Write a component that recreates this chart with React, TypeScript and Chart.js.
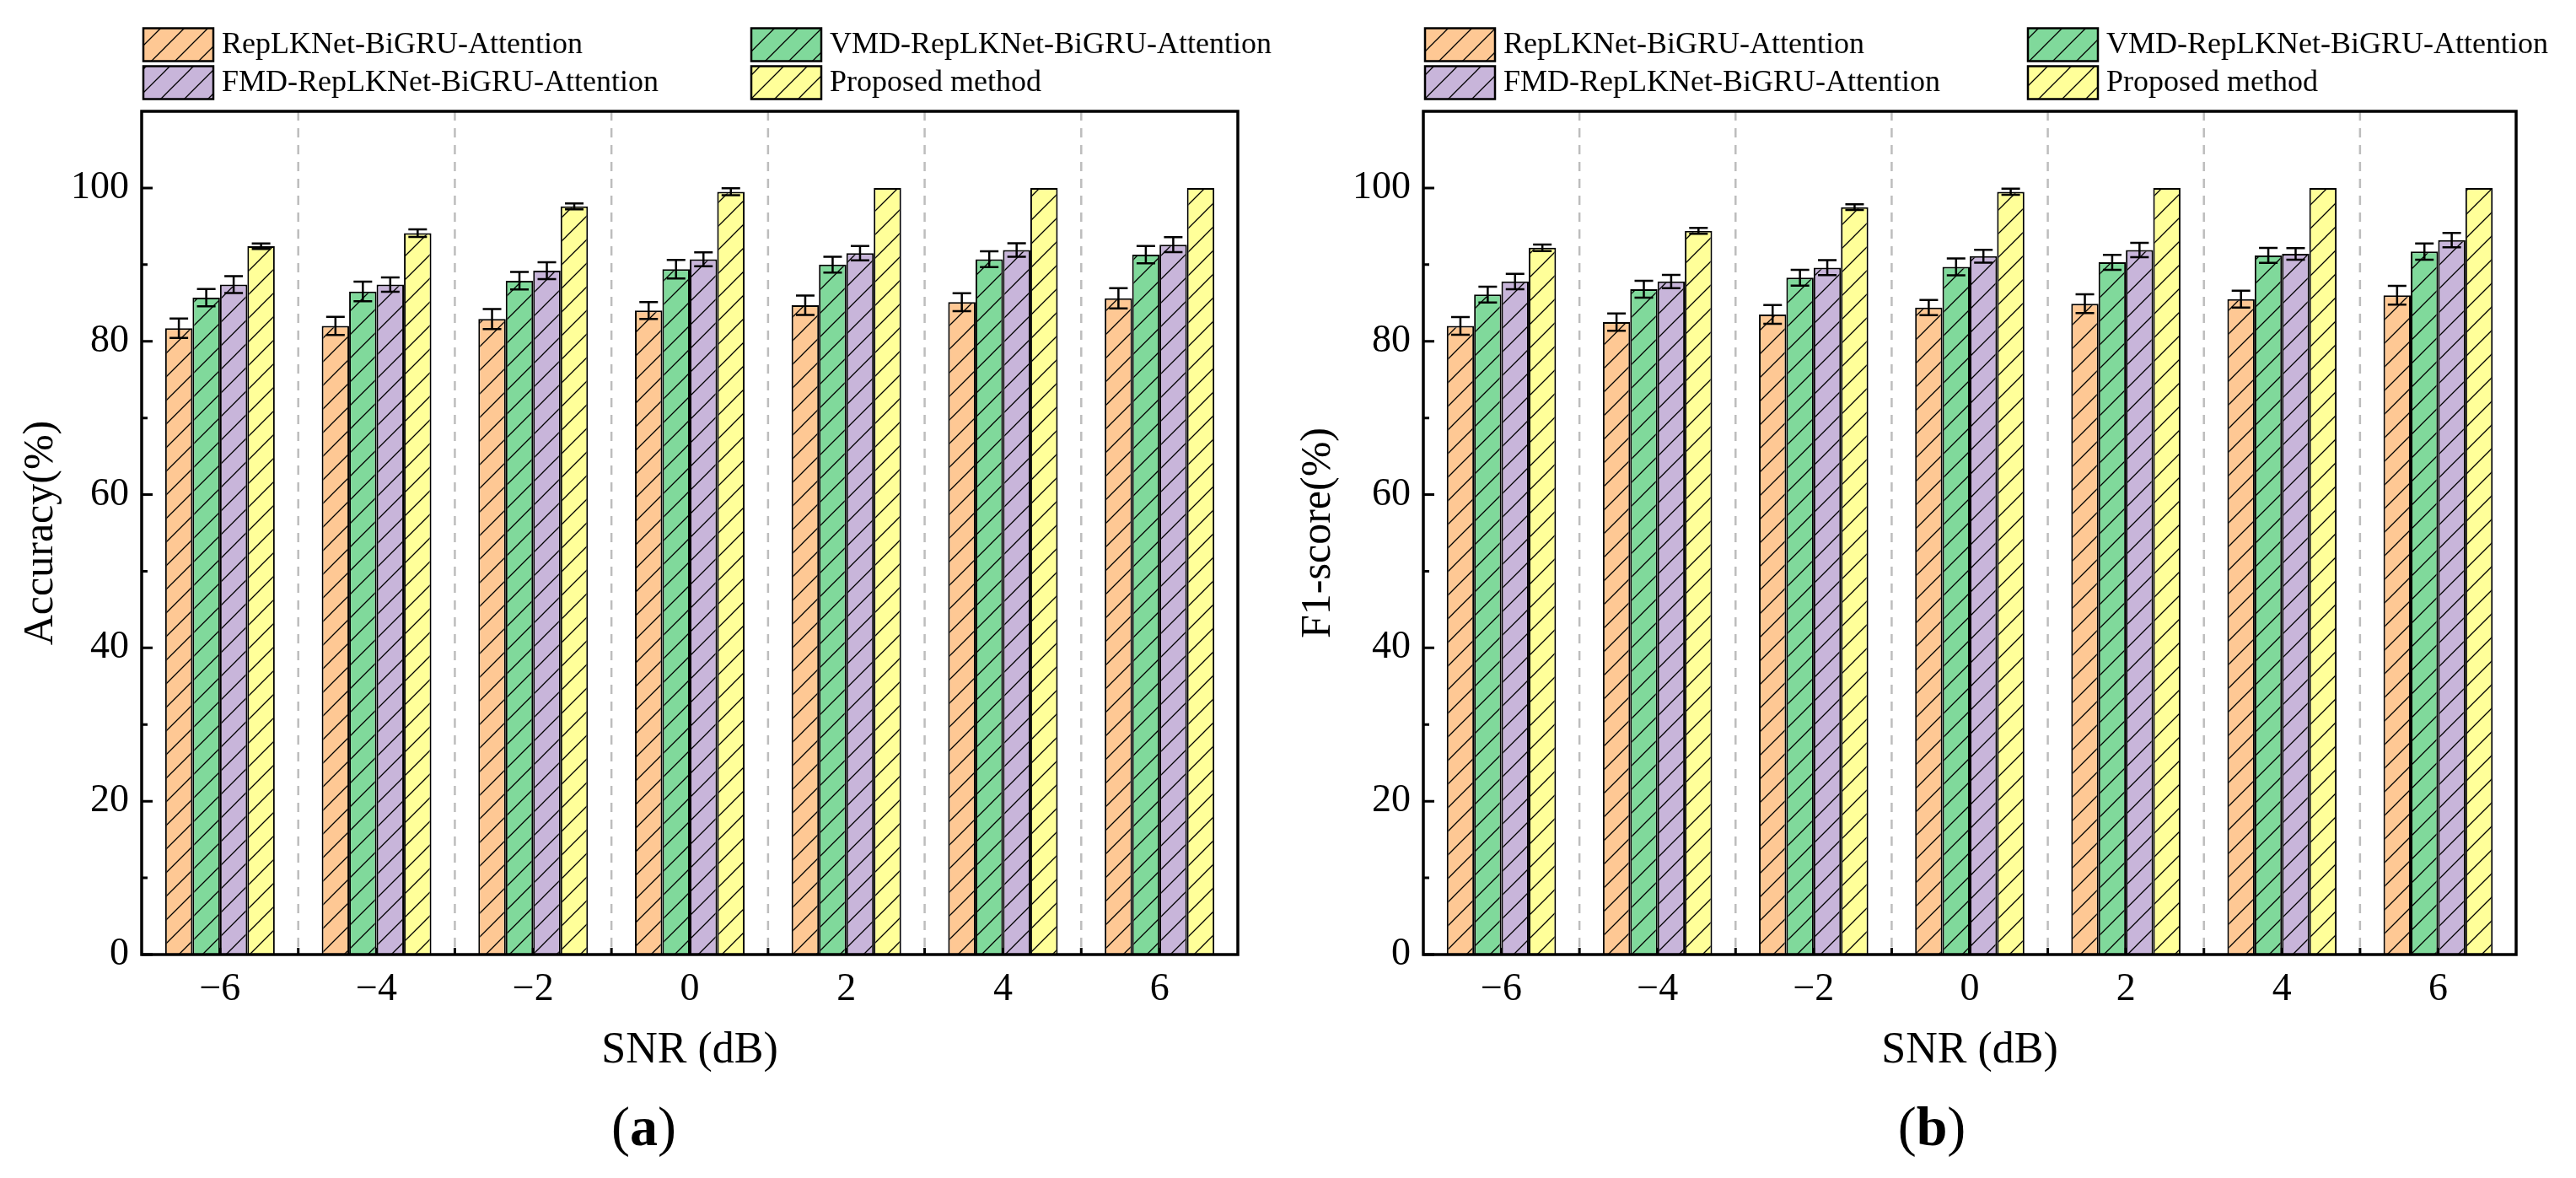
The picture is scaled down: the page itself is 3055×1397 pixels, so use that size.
import React, { useEffect, useRef } from 'react';
import { Chart, registerables } from 'chart.js';

Chart.register(...registerables);

const FONT = '"Liberation Serif", "Times New Roman", Times, serif';

// ---- data ----
const categories = ['−6', '−4', '−2', '0', '2', '4', '6'];
const seriesNames = [
  'RepLKNet-BiGRU-Attention',
  'VMD-RepLKNet-BiGRU-Attention',
  'FMD-RepLKNet-BiGRU-Attention',
  'Proposed method',
];
const seriesColors = ['#FEC894', '#80D99B', '#C8B5DA', '#FFFF99'];

// (a) Accuracy
const accRep = [81.7, 82.0, 82.9, 84.0, 84.7, 85.1, 85.6];
const accRepErr = [1.27, 1.18, 1.3, 1.1, 1.27, 1.18, 1.32];
const accVmd = [85.7, 86.5, 87.9, 89.4, 90.0, 90.7, 91.3];
const accVmdErr = [1.13, 1.27, 1.15, 1.2, 1.03, 1.03, 1.13];
const accFmd = [87.4, 87.4, 89.2, 90.7, 91.5, 91.9, 92.6];
const accFmdErr = [1.1, 0.93, 1.1, 0.9, 0.93, 0.88, 0.98];
const accProp = [92.4, 94.1, 97.6, 99.5, 100, 100, 100];
const accPropErr = [0.37, 0.49, 0.39, 0.45, 0, 0, 0];

// (b) F1-score
const f1Rep = [82.0, 82.5, 83.5, 84.4, 84.9, 85.5, 86.0];
const f1RepErr = [1.15, 1.13, 1.23, 1.0, 1.23, 1.1, 1.23];
const f1Vmd = [86.1, 86.8, 88.3, 89.7, 90.3, 91.2, 91.7];
const f1VmdErr = [1.03, 1.1, 1.03, 1.1, 0.98, 0.98, 1.05];
const f1Fmd = [87.8, 87.8, 89.6, 91.1, 91.9, 91.4, 93.2];
const f1FmdErr = [1.0, 0.86, 0.98, 0.84, 0.93, 0.76, 0.93];
const f1Prop = [92.2, 94.4, 97.5, 99.5, 100, 100, 100];
const f1PropErr = [0.42, 0.39, 0.37, 0.4, 0, 0, 0];

const yTicks = [0, 20, 40, 60, 80, 100];
const yMax = 110;

const H = 1397;

function makeHatch(color: string): CanvasPattern {
  const s = 28;
  const c = document.createElement('canvas');
  c.width = s;
  c.height = s;
  const g = c.getContext('2d')!;
  g.fillStyle = color;
  g.fillRect(0, 0, s, s);
  g.strokeStyle = '#000';
  g.lineWidth = 1.3;
  g.beginPath();
  g.moveTo(0, s);
  g.lineTo(s, 0);
  g.moveTo(-3, 3);
  g.lineTo(3, -3);
  g.moveTo(s - 3, s + 3);
  g.lineTo(s + 3, s - 3);
  g.stroke();
  return g.createPattern(c, 'repeat')!;
}

type PanelProps = {
  left: number;
  width: number;
  values: number[][];
  errors: number[][];
  yTitle: string;
  letter: string;
  plotLeft: number;
  plotRightPad: number;
  yTitlePad: number;
  legendCol2: number;
};

function Panel(p: PanelProps) {
  const ref = useRef<HTMLCanvasElement>(null);

  useEffect(() => {
    const canvas = ref.current!;
    const patterns = seriesColors.map(makeHatch);

    const decorations = {
      id: 'decorations',
      beforeDatasetsDraw(chart: any) {
        const { ctx, chartArea: a } = chart;
        const xs = chart.scales.x;
        ctx.save();
        ctx.strokeStyle = '#BDBDBD';
        ctx.lineWidth = 2.5;
        ctx.setLineDash([11, 9]);
        for (let i = 0; i < categories.length - 1; i++) {
          const px = (xs.getPixelForValue(i) + xs.getPixelForValue(i + 1)) / 2;
          ctx.beginPath();
          ctx.moveTo(px, a.top);
          ctx.lineTo(px, a.bottom);
          ctx.stroke();
        }
        ctx.restore();
      },
      afterDatasetsDraw(chart: any) {
        const { ctx, chartArea: a } = chart;
        const xs = chart.scales.x;
        const ys = chart.scales.y;
        ctx.save();
        // error bars
        ctx.strokeStyle = '#000';
        ctx.lineWidth = 2.5;
        chart.data.datasets.forEach((ds: any, i: number) => {
          const meta = chart.getDatasetMeta(i);
          meta.data.forEach((el: any, j: number) => {
            const v = ds.data[j];
            const e = p.errors[i][j];
            if (!e) return;
            const yt = ys.getPixelForValue(v + e);
            const yb = ys.getPixelForValue(v - e);
            const cap = 11;
            ctx.beginPath();
            ctx.moveTo(el.x, yt);
            ctx.lineTo(el.x, yb);
            ctx.moveTo(el.x - cap, yt);
            ctx.lineTo(el.x + cap, yt);
            ctx.moveTo(el.x - cap, yb);
            ctx.lineTo(el.x + cap, yb);
            ctx.stroke();
          });
        });
        // frame
        ctx.lineWidth = 3.5;
        ctx.strokeRect(a.left, a.top, a.right - a.left, a.bottom - a.top);
        // y ticks (inward)
        ctx.lineWidth = 3;
        const major = ys.ticks.map((t: any) => t.value);
        ctx.beginPath();
        major.forEach((v: number, k: number) => {
          const py = ys.getPixelForValue(v);
          ctx.moveTo(a.left, py);
          ctx.lineTo(a.left + 13, py);
          if (k < major.length - 1) {
            const pm = ys.getPixelForValue((v + major[k + 1]) / 2);
            ctx.moveTo(a.left, pm);
            ctx.lineTo(a.left + 7, pm);
          }
        });
        // x ticks at centres and boundaries (inward)
        for (let i = 0; i < categories.length; i++) {
          const pc = xs.getPixelForValue(i);
          ctx.moveTo(pc, a.bottom);
          ctx.lineTo(pc, a.bottom - 8);
          if (i < categories.length - 1) {
            const pb = (pc + xs.getPixelForValue(i + 1)) / 2;
            ctx.moveTo(pb, a.bottom);
            ctx.lineTo(pb, a.bottom - 8);
          }
        }
        ctx.stroke();
        ctx.restore();
      },
      afterDraw(chart: any) {
        const { ctx, chartArea: a } = chart;
        ctx.save();
        // legend 2x2
        ctx.font = `36px ${FONT}`;
        ctx.textBaseline = 'middle';
        chart.data.datasets.forEach((ds: any, i: number) => {
          const col = i % 2;
          const row = Math.floor(i / 2);
          const bx = a.left + (col === 0 ? 2 : p.legendCol2);
          const cy = 53 + row * 45;
          const bw = 83;
          const bh = 39;
          ctx.fillStyle = ds.backgroundColor;
          ctx.fillRect(bx, cy - bh / 2, bw, bh);
          ctx.strokeStyle = '#000';
          ctx.lineWidth = 2.5;
          ctx.strokeRect(bx, cy - bh / 2, bw, bh);
          ctx.fillStyle = '#000';
          ctx.textAlign = 'left';
          ctx.fillText(ds.label, bx + bw + 10, cy + 1);
        });
        // panel letter "(a)" with bold letter
        const size = 66;
        ctx.textBaseline = 'alphabetic';
        ctx.font = `${size}px ${FONT}`;
        const wL = ctx.measureText('(').width;
        const wR = ctx.measureText(')').width;
        ctx.font = `bold ${size}px ${FONT}`;
        const wM = ctx.measureText(p.letter).width;
        const total = wL + wM + wR;
        let x0 = chart.width / 2 - total / 2;
        const base = 1358;
        ctx.fillStyle = '#000';
        ctx.font = `${size}px ${FONT}`;
        ctx.fillText('(', x0, base);
        x0 += wL;
        ctx.font = `bold ${size}px ${FONT}`;
        ctx.fillText(p.letter, x0, base);
        x0 += wM;
        ctx.font = `${size}px ${FONT}`;
        ctx.fillText(')', x0, base);
        ctx.restore();
      },
    };

    const chart = new Chart(canvas, {
      type: 'bar',
      data: {
        labels: categories,
        datasets: seriesNames.map((name, i) => ({
          label: name,
          data: p.values[i],
          backgroundColor: patterns[i] as any,
          borderColor: '#000',
          borderWidth: 2,
          categoryPercentage: 0.7,
          barPercentage: 1.0,
        })),
      },
      options: {
        animation: false,
        responsive: false,
        devicePixelRatio: 1,
        layout: {
          padding: { left: 0, top: 132, right: p.plotRightPad, bottom: 0 },
        },
        plugins: {
          legend: { display: false },
          title: { display: false },
          tooltip: { enabled: false },
        },
        scales: {
          x: {
            grid: { display: false, drawTicks: false },
            border: { display: false },
            ticks: {
              color: '#000',
              font: { family: FONT, size: 46 },
              padding: 14,
              autoSkip: false,
              maxRotation: 0,
            },
            title: {
              display: true,
              text: 'SNR (dB)',
              color: '#000',
              font: { family: FONT, size: 52 },
              padding: { top: 0, bottom: 119 },
            },
            afterFit: (s: any) => {
              s.height = H - 1132;
            },
          },
          y: {
            min: 0,
            max: yMax,
            grid: { display: false, drawTicks: false },
            border: { display: false },
            afterBuildTicks: (s: any) => {
              s.ticks = yTicks.map((v) => ({ value: v }));
            },
            ticks: {
              color: '#000',
              font: { family: FONT, size: 46 },
              padding: 15,
            },
            title: {
              display: true,
              text: p.yTitle,
              color: '#000',
              font: { family: FONT, size: 50 },
              padding: { top: p.yTitlePad, bottom: 0 },
            },
            afterFit: (s: any) => {
              s.width = p.plotLeft;
            },
          },
        },
      },
      plugins: [decorations],
    } as any);

    return () => chart.destroy();
  }, []);

  return (
    <canvas
      ref={ref}
      width={p.width}
      height={H}
      style={{ position: 'absolute', left: p.left, top: 0, width: p.width, height: H }}
    />
  );
}

export default function App() {
  return (
    <div
      style={{
        position: 'absolute',
        left: 0,
        top: 0,
        width: 3055,
        height: H,
        background: '#fff',
        overflow: 'hidden',
      }}
    >
      <Panel
        left={0}
        width={1527}
        values={[accRep, accVmd, accFmd, accProp]}
        errors={[accRepErr, accVmdErr, accFmdErr, accPropErr]}
        yTitle="Accuracy(%)"
        letter="a"
        plotLeft={168}
        plotRightPad={59}
        yTitlePad={19}
        legendCol2={723}
      />
      <Panel
        left={1527}
        width={1528}
        values={[f1Rep, f1Vmd, f1Fmd, f1Prop]}
        errors={[f1RepErr, f1VmdErr, f1FmdErr, f1PropErr]}
        yTitle="F1-score(%)"
        letter="b"
        plotLeft={161}
        plotRightPad={71}
        yTitlePad={7}
        legendCol2={717}
      />
    </div>
  );
}
